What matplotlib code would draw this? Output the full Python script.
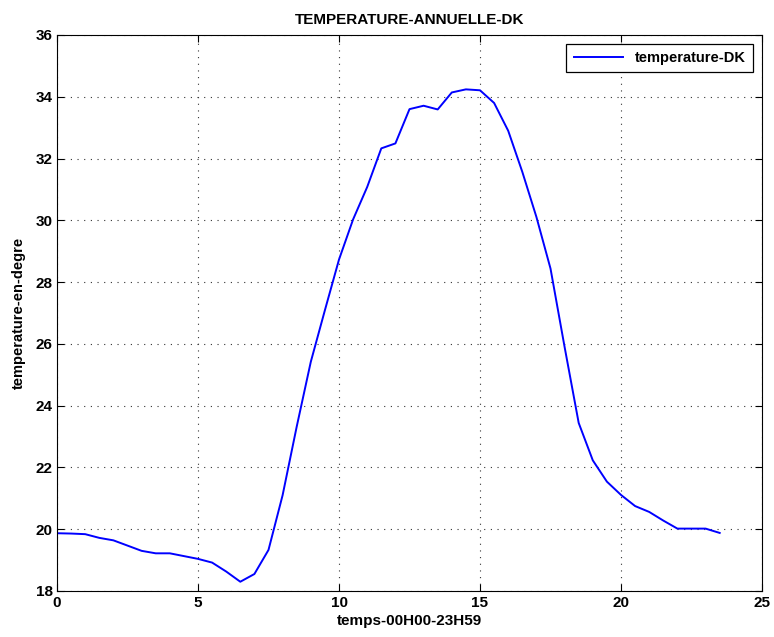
import matplotlib
matplotlib.use("Agg")
import matplotlib.pyplot as plt
import numpy as np

hours = np.arange(0, 24, 0.5)
temperature = [19.87, 19.86, 19.84, 19.72, 19.64, 19.47, 19.30, 19.22, 19.22, 19.13,
               19.04, 18.92, 18.63, 18.30, 18.55, 19.33, 21.10, 23.32, 25.42, 27.09,
               28.73, 30.03, 31.08, 32.33, 32.49, 33.60, 33.71, 33.59, 34.14, 34.24,
               34.21, 33.80, 32.90, 31.57, 30.11, 28.44, 25.90, 23.44, 22.23, 21.54,
               21.11, 20.75, 20.56, 20.28, 20.02, 20.02, 20.02, 19.88]
x_ticks = [0, 5, 10, 15, 20, 25]
y_ticks = [18, 20, 22, 24, 26, 28, 30, 32, 34, 36]

plt.rcParams['font.family'] = ['Liberation Sans', 'DejaVu Sans']
plt.rcParams['font.weight'] = 'bold'

fig = plt.figure(figsize=(7.74, 6.37), dpi=100)
ax = fig.add_axes([57/774, 1-591/637, (762-57)/774, (591-35)/637])
ax.plot(hours, temperature, color='#0000ff', lw=1.4, label='temperature-DK')
ax.set_xlim(0, 25)
ax.set_ylim(18, 36)
ax.set_xticks(x_ticks)
ax.set_yticks(y_ticks)
ax.tick_params(direction='in', top=True, right=True, labelsize=11, length=5, width=0.8)
ax.tick_params(axis='y', pad=3)
for lab in ax.get_xticklabels() + ax.get_yticklabels():
    lab.set_fontweight('bold')
ax.grid(True, linestyle=(0, (1, 5)), color='#333333', linewidth=0.8)
for s in ax.spines.values():
    s.set_linewidth(0.8)
ax.set_title('TEMPERATURE-ANNUELLE-DK', fontsize=11, fontweight='bold', pad=8)
ax.set_xlabel('temps-00H00-23H59', fontsize=11, fontweight='bold', labelpad=3)
ax.set_ylabel('temperature-en-degre', fontsize=10.5, fontweight='bold', labelpad=7)
leg = ax.legend(loc='upper right', fontsize=10.5, fancybox=False, edgecolor='black',
                framealpha=1, borderpad=0.5, handlelength=3.4, borderaxespad=0.6)
leg.get_frame().set_linewidth(0.9)
for t in leg.get_texts():
    t.set_fontweight('bold')
fig.savefig('out.png', dpi=100)
